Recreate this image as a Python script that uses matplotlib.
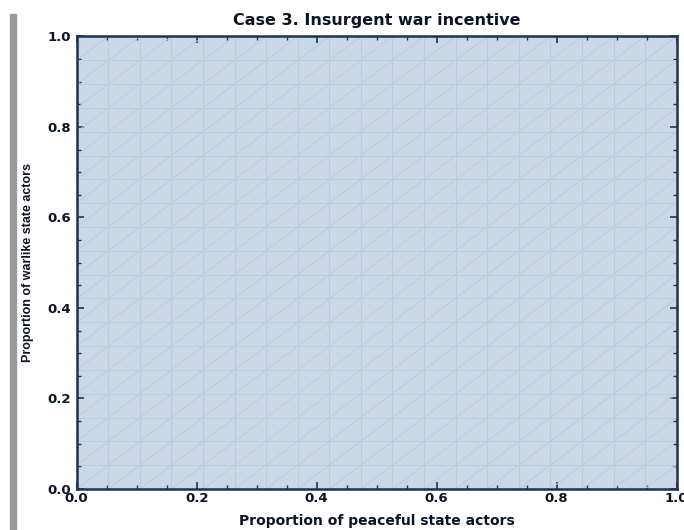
import numpy as np
import matplotlib.pyplot as plt
from matplotlib.patches import Rectangle
from matplotlib.ticker import MultipleLocator

# region that is shaded (whole unit square) and its mesh
x_range = [0.0, 1.0]
y_range = [0.0, 1.0]
mesh_divisions = 19
major_ticks = [0.0, 0.2, 0.4, 0.6, 0.8, 1.0]
tick_labels = ['0.0', '0.2', '0.4', '0.6', '0.8', '1.0']

title = 'Case 3. Insurgent war incentive'
xlabel = 'Proportion of peaceful state actors'
ylabel = 'Proportion of warlike state actors'

fill_col = '#c9d7e6'
mesh_col = '#b7cce0'
frame_col = '#1c3350'
text_col = '#0b1424'

plt.rcParams['font.family'] = ['DejaVu Sans']

fig = plt.figure(figsize=(6.84, 5.30), dpi=100)
ax = fig.add_axes([0.1121, 0.0774, 0.8772, 0.8538])

# grey bar at the left edge of the screenshot
fig.patches.append(Rectangle((0.0146, 0), 0.0088, 0.974, transform=fig.transFigure,
                             color='#9a9a9a', zorder=0))

ax.fill_between(x_range, y_range[0], y_range[1], color=fill_col, lw=0, zorder=1)

xs = np.linspace(x_range[0], x_range[1], mesh_divisions + 1)
ys = np.linspace(y_range[0], y_range[1], mesh_divisions + 1)
for x in xs:
    ax.plot([x, x], y_range, color=mesh_col, lw=0.7, zorder=2)
for y in ys:
    ax.plot(x_range, [y, y], color=mesh_col, lw=0.7, zorder=2)
# diagonals through each cell (lower left to upper right)
for k in range(-mesh_divisions + 1, mesh_divisions):
    c = k / mesh_divisions
    x0 = max(x_range[0], y_range[0] + c)
    x1 = min(x_range[1], y_range[1] + c)
    ax.plot([x0, x1], [x0 - c, x1 - c], color=mesh_col, lw=0.7, zorder=2)

ax.set_xlim(x_range)
ax.set_ylim(y_range)
ax.set_xticks(major_ticks)
ax.set_xticklabels(tick_labels)
ax.set_yticks(major_ticks)
ax.set_yticklabels(tick_labels)
ax.xaxis.set_minor_locator(MultipleLocator(0.05))
ax.yaxis.set_minor_locator(MultipleLocator(0.05))
ax.tick_params(which='both', direction='in', top=True, right=True, color=frame_col)
ax.tick_params(which='major', length=5, width=1.2)
ax.tick_params(which='minor', length=3, width=1.0)
ax.tick_params(axis='x', pad=2, labelsize=9.5, labelcolor=text_col)
ax.tick_params(axis='y', pad=4, labelsize=9.5, labelcolor=text_col)
for lab in ax.get_xticklabels() + ax.get_yticklabels():
    lab.set_fontweight('bold')

for sp in ax.spines.values():
    sp.set_color(frame_col)
    sp.set_linewidth(1.8)
    sp.set_zorder(5)

ax.set_title(title, fontsize=11.5, fontweight='bold', color=text_col, pad=8)
ax.set_xlabel(xlabel, fontsize=10, fontweight='bold', color=text_col, labelpad=7)
ax.set_ylabel(ylabel, fontsize=9, fontweight='bold', color=text_col, labelpad=10,
              family=['Liberation Sans Narrow', 'Liberation Sans'])

fig.savefig('out.png', dpi=100)
